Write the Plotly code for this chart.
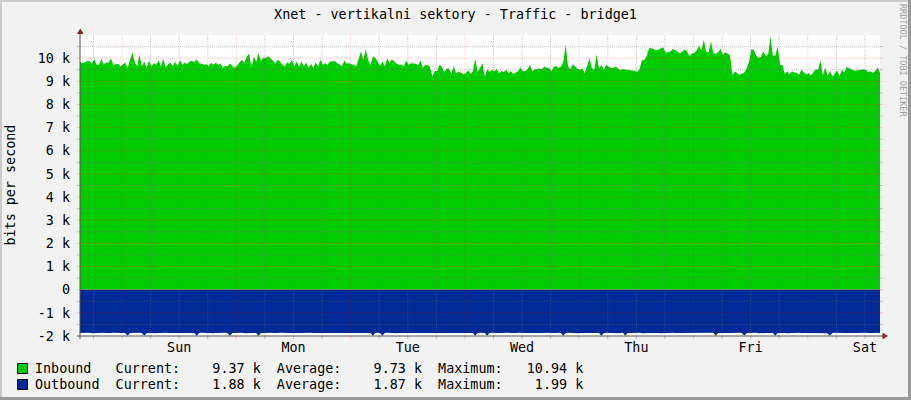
import plotly.graph_objects as go
import pandas as pd

# ---------------- data ----------------
TITLE = "Xnet - vertikalni sektory - Traffic - bridge1"
Y_TITLE = "bits per second"
WATERMARK = "RRDTOOL / TOBI OETIKER"
START = "2024-01-06 15:10"   # a Saturday afternoon
END = "2024-01-13 15:10"
STEP = "30min"

# inbound traffic, thousands of bits per second, one value per 30 minutes
inbound_k = [
    9.86, 9.78, 9.81, 9.88, 9.89, 9.76, 9.95, 9.71, 9.72, 9.97,
    9.72, 9.81, 9.80, 9.99, 9.71, 9.72, 9.76, 9.64, 9.73, 9.81,
    9.58, 9.95, 10.26, 9.83, 9.64, 10.14, 9.66, 9.85, 9.57, 9.90,
    9.64, 9.79, 9.72, 9.91, 9.64, 9.97, 9.59, 9.74, 9.80, 9.66,
    9.84, 9.64, 9.92, 9.72, 9.80, 9.75, 9.86, 9.89, 9.82, 9.95,
    9.78, 9.76, 9.72, 9.74, 9.64, 9.80, 9.72,
    9.80, 9.72, 9.76, 9.57, 9.66, 9.65, 9.78, 9.64, 9.58, 9.69,
    9.83, 9.93, 9.80, 10.05, 10.20, 9.60, 10.07, 9.85, 10.22, 9.87,
    10.02, 10.00, 10.08, 10.00, 9.90, 9.78, 9.93, 9.86, 9.71, 9.64,
    9.82, 9.75, 9.93, 9.64, 9.86, 9.64, 9.86, 9.64, 9.81, 9.57,
    9.76, 9.57, 9.81, 9.64, 9.93, 9.71, 9.78, 9.71, 9.86, 9.86,
    9.89, 9.78, 9.74, 9.64, 9.90, 9.76, 9.78,
    9.74, 9.72, 9.64, 9.97, 10.29, 9.93, 10.39, 9.92, 9.70, 10.07,
    10.02, 9.86, 9.66, 9.86, 9.64, 10.00, 9.80, 9.95, 9.84, 9.76,
    9.71, 9.73, 9.64, 9.90, 9.71, 9.78, 9.77, 9.76, 9.69, 9.90,
    9.58, 9.71, 9.70, 9.62, 9.21, 9.45, 9.43, 9.72, 9.62, 9.40,
    9.55, 9.55, 9.33, 9.66, 9.33, 9.42, 9.37, 9.30, 9.35, 9.48,
    9.30, 9.45, 9.96, 9.40, 9.57, 9.78,
    9.22, 9.52, 9.40, 9.50, 9.43, 9.53, 9.36, 9.45, 9.40, 9.50,
    9.35, 9.45, 9.32, 9.36, 9.43, 9.60, 9.43, 9.44, 9.52, 9.70,
    9.43, 9.52, 9.52, 9.56, 9.51, 9.64, 9.57, 9.57, 9.45, 9.62,
    9.66, 9.58, 9.64, 9.86, 10.57, 9.64, 9.52, 9.74, 9.62, 9.53,
    9.50, 9.56, 9.35, 9.68, 10.00, 9.57, 9.50, 10.17, 9.55, 9.71,
    9.50, 9.70, 9.64, 9.58, 9.57, 9.64,
    9.55, 9.49, 9.53, 9.52, 9.50, 9.47, 9.47, 9.45, 9.40, 9.52,
    9.90, 9.93, 10.08, 10.43, 10.43, 10.40, 10.33, 10.36, 10.42, 10.47,
    10.22, 10.27, 10.29, 10.39, 10.35, 10.29, 10.20, 10.29, 10.37, 10.29,
    10.07, 10.20, 10.22, 10.33, 10.53, 10.33, 10.80, 10.29, 10.25, 10.72,
    10.20, 10.18, 10.25, 10.40, 10.15, 10.26, 10.19, 10.14, 9.26, 9.42,
    9.36, 9.28, 9.33, 9.38, 9.55, 9.86,
    10.40, 10.35, 10.12, 10.02, 10.05, 10.29, 10.10, 10.15, 10.94, 10.12,
    10.10, 10.50, 9.71, 9.71, 9.32, 9.43, 9.30, 9.43, 9.38, 9.36,
    9.28, 9.50, 9.38, 9.30, 9.35, 9.25, 9.38, 9.52, 9.50, 9.90,
    9.25, 9.60, 9.24, 9.45, 9.21, 9.32, 9.48, 9.22, 9.50, 9.38,
    9.62, 9.57, 9.53, 9.47, 9.47, 9.50, 9.50, 9.52, 9.50, 9.40,
    9.43, 9.36, 9.45, 9.60, 9.37,
]

# outbound traffic, thousands of bits per second (drawn below zero)
outbound_k = [
    1.87, 1.86, 1.87, 1.87, 1.86, 1.88, 1.87, 1.86, 1.87, 1.87, 1.86, 1.87, 1.88, 1.87, 1.86, 1.87, 1.87, 1.86, 1.87, 1.87, 1.99, 1.87, 1.86, 1.87,
    1.87, 1.86, 1.87, 1.99, 1.87, 1.86, 1.87, 1.88, 1.87, 1.86, 1.87, 1.87, 1.86, 1.87, 1.87, 1.86, 1.88, 1.87, 1.87, 1.86, 1.87, 1.87, 1.86, 1.87,
    1.87, 1.99, 1.87, 1.86, 1.87, 1.87, 1.86, 1.87, 1.88, 1.87, 1.86, 1.87, 1.87, 1.86, 1.87, 1.99, 1.87, 1.86, 1.87, 1.87, 1.86, 1.88, 1.87, 1.87,
    1.86, 1.87, 1.87, 1.99, 1.87, 1.86, 1.87, 1.87, 1.86, 1.87, 1.88, 1.87, 1.86, 1.87, 1.87, 1.86, 1.87, 1.87, 1.86, 1.88, 1.87, 1.87, 1.86, 1.87,
    1.87, 1.86, 1.87, 1.87, 1.86, 1.88, 1.87, 1.87, 1.86, 1.87, 1.87, 1.86, 1.87, 1.88, 1.87, 1.86, 1.87, 1.87, 1.86, 1.87, 1.87, 1.86, 1.88, 1.87,
    1.87, 1.86, 1.87, 1.99, 1.87, 1.86, 1.87, 1.99, 1.87, 1.86, 1.87, 1.87, 1.86, 1.88, 1.87, 1.87, 1.86, 1.87, 1.87, 1.86, 1.87, 1.88, 1.87, 1.86,
    1.87, 1.87, 1.86, 1.87, 1.87, 1.86, 1.88, 1.87, 1.87, 1.86, 1.87, 1.87, 1.86, 1.87, 1.88, 1.87, 1.86, 1.87, 1.87, 1.86, 1.87, 1.87, 1.99, 1.87,
    1.86, 1.87, 1.87, 1.99, 1.87, 1.86, 1.88, 1.87, 1.87, 1.86, 1.87, 1.87, 1.86, 1.87, 1.88, 1.87, 1.86, 1.87, 1.87, 1.86, 1.87, 1.87, 1.86, 1.88,
    1.87, 1.87, 1.86, 1.87, 1.87, 1.86, 1.87, 1.88, 1.87, 1.86, 1.87, 1.99, 1.87, 1.86, 1.87, 1.87, 1.86, 1.88, 1.87, 1.87, 1.86, 1.87, 1.87, 1.86,
    1.87, 1.88, 1.87, 1.99, 1.87, 1.86, 1.87, 1.87, 1.86, 1.87, 1.88, 1.87, 1.86, 1.99, 1.87, 1.87, 1.86, 1.87, 1.87, 1.86, 1.88, 1.87, 1.87, 1.86,
    1.87, 1.87, 1.86, 1.87, 1.88, 1.87, 1.86, 1.87, 1.87, 1.86, 1.87, 1.87, 1.86, 1.88, 1.87, 1.87, 1.86, 1.87, 1.87, 1.86, 1.87, 1.88, 1.87, 1.86,
    1.87, 1.87, 1.86, 1.99, 1.87, 1.87, 1.86, 1.88, 1.87, 1.87, 1.86, 1.87, 1.87, 1.86, 1.87, 1.99, 1.87, 1.86, 1.87, 1.87, 1.86, 1.88, 1.87, 1.87,
    1.86, 1.87, 1.87, 1.86, 1.99, 1.87, 1.87, 1.86, 1.87, 1.88, 1.87, 1.86, 1.87, 1.87, 1.86, 1.87, 1.87, 1.86, 1.88, 1.87, 1.87, 1.86, 1.87, 1.87,
    1.86, 1.87, 1.88, 1.99, 1.87, 1.86, 1.87, 1.87, 1.86, 1.87, 1.87, 1.86, 1.88, 1.87, 1.87, 1.86, 1.87, 1.87, 1.86, 1.87, 1.88, 1.87, 1.87, 1.86,
    1.88,
]

day_labels = ["Sun", "Mon", "Tue", "Wed", "Thu", "Fri", "Sat"]
day_noons = ["2024-01-07 12:00", "2024-01-08 12:00", "2024-01-09 12:00", "2024-01-10 12:00",
             "2024-01-11 12:00", "2024-01-12 12:00", "2024-01-13 12:00"]
y_tickvals = [-2000, -1000, 0, 1000, 2000, 3000, 4000, 5000, 6000, 7000, 8000, 9000, 10000]
y_ticktext = ["-2 k", "-1 k", "0", "1 k", "2 k", "3 k", "4 k", "5 k", "6 k", "7 k", "8 k", "9 k", "10 k"]

legend_names = ["Inbound", "Outbound"]
legend_current = ["9.37 k", "1.88 k"]
legend_average = ["9.73 k", "1.87 k"]
legend_maximum = ["10.94 k", "1.99 k"]

# ---------------- styling ----------------
FONT = "DejaVu Sans Mono"
FS = 13.4
C_IN = "#00CC00"
C_OUT = "#002A97"
BG = "#F2F2F2"
MGRID = "rgba(255,0,0,0.2)"
GRID = "rgba(110,110,110,0.38)"
AXIS = "#555555"
ARROW = "#8B1E1E"

W, H = 911, 400
L, R, T, B = 80, 880, 35, 336


def px(x):
    return (x - L) / (R - L)


def py(y):
    return (B - y) / (B - T)


t_in = pd.date_range(START, periods=len(inbound_k), freq=STEP)
t_out = pd.date_range(START, periods=len(outbound_k), freq=STEP)

fig = go.Figure()
fig.add_trace(go.Scatter(x=t_in, y=[v * 1000 for v in inbound_k], mode="lines",
                         line=dict(width=0, color=C_IN), fill="tozeroy",
                         fillcolor=C_IN, name="Inbound", showlegend=False, hoverinfo="skip"))
fig.add_trace(go.Scatter(x=t_out, y=[-v * 1000 for v in outbound_k], mode="lines",
                         line=dict(width=0, color=C_OUT), fill="tozeroy",
                         fillcolor=C_OUT, name="Outbound", showlegend=False, hoverinfo="skip"))

shapes = []
# horizontal grid
for k in range(-3, 22):
    v = k * 500
    if v <= -2000:
        continue
    major = (v % 1000 == 0)
    col = MGRID if major else GRID
    shapes.append(dict(type="line", xref="paper", yref="y", x0=0, x1=1, y0=v, y1=v,
                       line=dict(color=col, width=1, dash="1px,1px"), layer="above"))
    shapes.append(dict(type="line", xref="paper", yref="y", x0=px(77), x1=px(80), y0=v, y1=v,
                       line=dict(color=col, width=1), layer="above"))
    shapes.append(dict(type="line", xref="paper", yref="y", x0=px(880), x1=px(883), y0=v, y1=v,
                       line=dict(color=col, width=1), layer="above"))
# vertical grid every 6 hours, red at midnight
for ts in pd.date_range("2024-01-06 18:00", "2024-01-13 12:00", freq="6h"):
    col = MGRID if ts.hour == 0 else GRID
    shapes.append(dict(type="line", xref="x", yref="paper", x0=ts, x1=ts, y0=0, y1=1,
                       line=dict(color=col, width=1, dash="1px,1px"), layer="above"))
    shapes.append(dict(type="line", xref="x", yref="paper", x0=ts, x1=ts, y0=py(336), y1=py(339),
                       line=dict(color=col, width=1), layer="above"))
# axes
shapes.append(dict(type="line", xref="paper", yref="paper", x0=px(80), x1=px(80), y0=py(339), y1=py(33),
                   line=dict(color=AXIS, width=1), layer="above"))
shapes.append(dict(type="line", xref="paper", yref="paper", x0=px(77), x1=px(884), y0=py(336), y1=py(336),
                   line=dict(color=AXIS, width=1), layer="above"))
# arrows
shapes.append(dict(type="path", xref="paper", yref="paper",
                   path=f"M {px(77)} {py(34)} L {px(83.5)} {py(34)} L {px(80.25)} {py(28.5)} Z",
                   fillcolor=ARROW, line=dict(width=0), layer="above"))
shapes.append(dict(type="path", xref="paper", yref="paper",
                   path=f"M {px(882.5)} {py(332.75)} L {px(882.5)} {py(339.25)} L {px(888)} {py(336)} Z",
                   fillcolor=ARROW, line=dict(width=0), layer="above"))
# frame
shapes.append(dict(type="rect", xref="paper", yref="paper", x0=px(0), x1=px(W), y0=py(0), y1=py(2),
                   fillcolor="#CBCBCB", line=dict(width=0)))
shapes.append(dict(type="rect", xref="paper", yref="paper", x0=px(0), x1=px(2), y0=py(0), y1=py(H),
                   fillcolor="#CBCBCB", line=dict(width=0)))
shapes.append(dict(type="rect", xref="paper", yref="paper", x0=px(0), x1=px(W), y0=py(397), y1=py(H),
                   fillcolor="#999999", line=dict(width=0)))
shapes.append(dict(type="rect", xref="paper", yref="paper", x0=px(908), x1=px(W), y0=py(0), y1=py(H),
                   fillcolor="#999999", line=dict(width=0)))

annotations = []
# legend
fill_cols = [C_IN, C_OUT]
for r, name in enumerate(legend_names):
    yc = 368.5 + 16 * r
    shapes.append(dict(type="rect", xref="paper", yref="paper", x0=px(17.5), x1=px(27.5),
                       y0=py(yc - 5), y1=py(yc + 5), fillcolor=fill_cols[r],
                       line=dict(color="#000000", width=1)))
    txt = f"{name:<10}Current:{legend_current[r]:>10}  Average:{legend_average[r]:>10}  Maximum:{legend_maximum[r]:>10}"
    annotations.append(dict(xref="paper", yref="paper", x=px(33), y=py(yc), xanchor="left",
                            yanchor="middle", showarrow=False, text=txt.replace(" ", "\u00a0"),
                            font=dict(family=FONT, size=FS, color="#000000")))
# y-axis title
annotations.append(dict(xref="paper", yref="paper", x=px(10), y=0.5, xanchor="center", yanchor="middle",
                        showarrow=False, text=Y_TITLE.replace(" ", "\u00a0"), textangle=-90,
                        font=dict(family=FONT, size=FS, color="#000000")))
# watermark
annotations.append(dict(xref="paper", yref="paper", x=px(903), y=py(60), xanchor="center", yanchor="middle",
                        showarrow=False, text=WATERMARK.replace(" ", "\u00a0"), textangle=90,
                        font=dict(family=FONT, size=8.5, color="#A0A0A0")))

fig.update_layout(
    width=W, height=H,
    margin=dict(l=L, r=W - R, t=T, b=H - B, autoexpand=False),
    paper_bgcolor=BG, plot_bgcolor="#FFFFFF",
    title=dict(text=TITLE, x=0.5, xref="container", xanchor="center", y=1 - 14 / H,
               yref="container", yanchor="middle", font=dict(family=FONT, size=FS, color="#000000")),
    xaxis=dict(range=[START, END], type="date", tickmode="array", tickvals=day_noons, ticktext=day_labels,
               showgrid=False, zeroline=False, showline=False, ticks="", automargin=False,
               tickfont=dict(family=FONT, size=FS, color="#000000"), ticklabelstandoff=2),
    yaxis=dict(range=[-2000, 11000], tickmode="array", tickvals=y_tickvals, ticktext=y_ticktext,
               showgrid=False, zeroline=False, showline=False, ticks="", automargin=False,
               tickfont=dict(family=FONT, size=FS, color="#000000"), ticklabelstandoff=9),
    shapes=shapes, annotations=annotations, showlegend=False,
)

fig.write_html("out.html", config={"displayModeBar": False},
               post_script="document.body.style.margin='0';document.body.style.padding='0';")
